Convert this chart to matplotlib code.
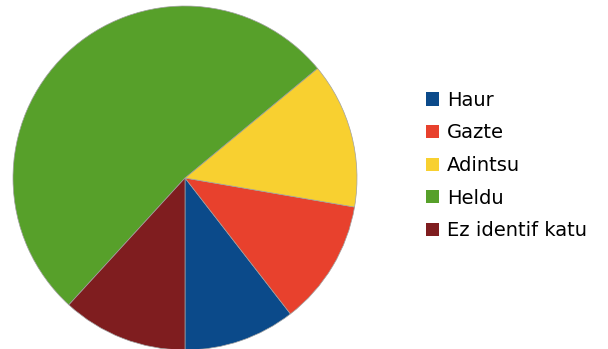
import matplotlib.pyplot as plt
from matplotlib.patches import Patch

# grupoak eta portzentaiak
etiketak = ['Haur', 'Gazte', 'Adintsu', 'Heldu', 'Ez identif katu']
balioak = [10.5, 11.8, 13.7, 52.2, 11.8]
koloreak = ['#0b4a8a', '#e8412d', '#f8d030', '#57a02a', '#7f1d1f']

fig = plt.figure(figsize=(6.08, 3.49), dpi=100)
ax = fig.add_axes([13 / 608, -1 / 349, 344 / 608, 344 / 349])
ax.pie(balioak, colors=koloreak, startangle=-90, counterclock=True,
       radius=1, wedgeprops=dict(linewidth=0.5, edgecolor='#a0a0a0'))
ax.set_xlim(-1.0, 1.0)
ax.set_ylim(-1.0, 1.0)
ax.set_aspect('equal')

eskuak = [Patch(facecolor=k, edgecolor='none') for k in koloreak]
fig.legend(eskuak, etiketak, loc='center left', bbox_to_anchor=(426 / 608, 1 - 165.5 / 349),
           frameon=False, fontsize=14, handlelength=0.68, handleheight=0.68,
           handletextpad=0.4, labelspacing=0.7, borderaxespad=0, borderpad=0)

fig.savefig('out.png', dpi=100)
